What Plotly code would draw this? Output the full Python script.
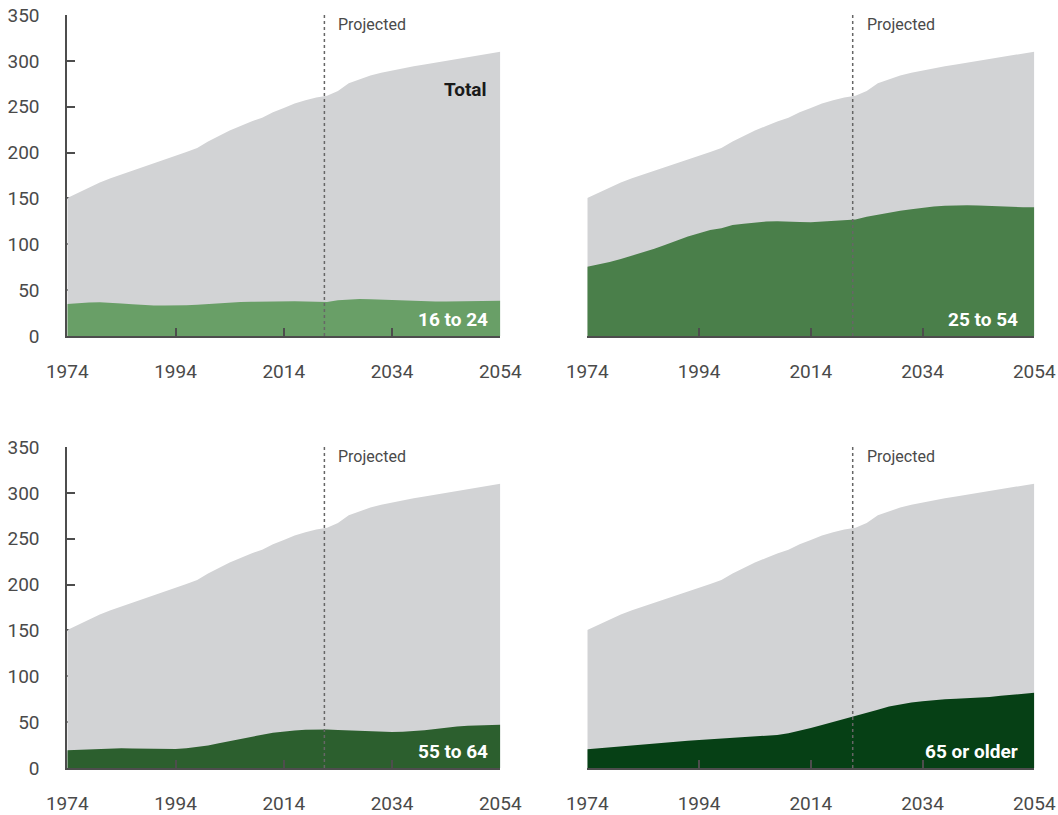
import plotly.graph_objects as go

years = list(range(1974, 2055, 2))

total = [150.5, 156, 161.5, 167.5, 172, 176, 180, 184, 188, 192.5,
         196.5, 200.5, 205, 212, 218, 224, 229, 234, 238, 244,
         248.5, 253.5, 257, 260, 262, 267, 275.5, 280, 284, 287,
         289.5, 292, 294, 296, 298, 300, 302, 304, 306, 308, 310]

age_16_24 = [34.8, 35.8, 36.5, 36.7, 36.3, 35.5, 34.5, 33.5, 33.2, 33.2,
             33.2, 33.5, 34.2, 35, 35.8, 36.5, 37, 37.3, 37.6, 38,
             38.2, 38, 37.5, 37, 37, 39, 40, 40.3, 40, 39.5,
             38.7, 38.2, 37.8, 37.5, 37.5, 37.7, 38, 38.2, 38.4, 38.5, 38.5]

age_25_54 = [75.6, 78, 80.8, 84, 87.5, 91, 95, 99.5, 104, 108.5,
             112, 115.5, 117.5, 121, 122.5, 124, 124.8, 125, 125, 124.3,
             124, 124.6, 125.3, 125.8, 127, 130, 132.3, 134.5, 136.5, 138.3,
             140, 141.3, 142, 142.4, 142.5, 142.3, 141.7, 141, 140.7, 140.5, 140.3]

age_55_64 = [19.3, 19.8, 20.3, 20.8, 21.2, 21.4, 21.3, 21, 20.6, 20.6,
             20.7, 21.5, 23, 24.5, 27, 29.5, 32, 34.2, 36.3, 38.3,
             39.8, 41, 41.8, 42.1, 42, 41.5, 41, 40.2, 39.4, 39.2,
             39.2, 39.5, 40.2, 41.2, 42.5, 44, 45.2, 46, 46.6, 47, 47.2]

age_65_plus = [20.5, 21.6, 22.7, 23.8, 24.9, 26, 27, 28, 29, 29.8,
               30.6, 31.3, 32, 32.6, 33.3, 34, 34.8, 36, 37.8, 40.5,
               43.5, 46.8, 50, 53.3, 56.5, 59.5, 63.5, 67, 69.5, 71.3,
               72.8, 74, 75, 75.5, 76, 76.5, 77.5, 78.7, 80, 81, 82]

groups = ["16 to 24", "25 to 54", "55 to 64", "65 or older"]
group_values = [age_16_24, age_25_54, age_55_64, age_65_plus]
group_colors = ["#699f67", "#4a7f4a", "#2c5f2e", "#064015"]

x_ticks = [1974, 1994, 2014, 2034, 2054]
y_ticks = [0, 50, 100, 150, 200, 250, 300, 350]
projection_start = 2021.5

GRAY = "#d2d3d5"
AXIS = "#4d4d4d"
TEXT = "#4a4a4a"
FONT = "Roboto"

W, H = 1058, 815
x_dom = [(67.3, 500.3), (587.3, 1034.3), (67.3, 500.3), (587.3, 1034.3)]
y_dom = [(15, 336), (15, 336), (447, 768), (447, 768)]

fig = go.Figure()
layout = dict(
    width=W, height=H,
    margin=dict(l=0, r=0, t=0, b=0, autoexpand=False),
    paper_bgcolor="white", plot_bgcolor="white",
    showlegend=False,
    font=dict(family=FONT, size=18, color=TEXT),
    shapes=[], annotations=[],
)

for i in range(4):
    n = "" if i == 0 else str(i + 1)
    xa, ya = "x" + n, "y" + n
    fig.add_trace(go.Scatter(x=years, y=total, xaxis=xa, yaxis=ya, mode="lines",
                             line=dict(width=0, color=GRAY), fill="tozeroy",
                             fillcolor=GRAY, hoverinfo="skip"))
    fig.add_trace(go.Scatter(x=years, y=group_values[i], xaxis=xa, yaxis=ya, mode="lines",
                             line=dict(width=0, color=group_colors[i]), fill="tozeroy",
                             fillcolor=group_colors[i], hoverinfo="skip"))
    x0, x1 = x_dom[i]
    y0, y1 = y_dom[i]
    left = i in (0, 2)
    layout["xaxis" + n] = dict(
        domain=[x0 / W, x1 / W], anchor=ya, range=[1974, 2054], automargin=False,
        tickvals=x_ticks, ticks="inside", ticklen=8, tickwidth=1.5, tickcolor=AXIS,
        showline=True, linecolor=AXIS, linewidth=2, showgrid=False, zeroline=False,
        tickfont=dict(family=FONT, size=19, color=TEXT), ticklabelstandoff=17,
        ticklabeloverflow="allow", layer="above traces",
    )
    layout["yaxis" + n] = dict(
        domain=[1 - y1 / H, 1 - y0 / H], anchor=xa, range=[0, 350], automargin=False,
        tickvals=y_ticks, showticklabels=left, ticks="inside" if left else "",
        ticklen=8, tickwidth=1.5, tickcolor=AXIS,
        showline=left, linecolor=AXIS, linewidth=2, showgrid=False, zeroline=False,
        tickfont=dict(family=FONT, size=19, color=TEXT), ticklabelstandoff=22,
        ticklabeloverflow="allow", layer="below traces",
    )
    layout["shapes"].append(dict(type="line", xref=xa, yref=ya + " domain",
                                 x0=projection_start, x1=projection_start, y0=0, y1=1,
                                 line=dict(color="#666666", width=1.5, dash="dot"),
                                 layer="above"))
    layout["annotations"].append(dict(x=projection_start, y=340, xref=xa, yref=ya,
                                      text="Projected", showarrow=False, xanchor="left",
                                      yanchor="middle", xshift=12,
                                      font=dict(family=FONT, size=16, color=TEXT)))
    layout["annotations"].append(dict(x=2054, y=18, xref=xa, yref=ya,
                                      text="<b>" + groups[i] + "</b>", showarrow=False,
                                      xanchor="right", yanchor="middle",
                                      xshift=-10 if left else -14,
                                      font=dict(family=FONT, size=19, color="white")))

layout["annotations"].append(dict(x=2054, y=269, xref="x", yref="y", text="<b>Total</b>",
                                  showarrow=False, xanchor="right", yanchor="middle",
                                  xshift=-11, font=dict(family=FONT, size=19, color="#1a1a1a")))

fig.update_layout(**layout)
fig.write_html("out.html", config={"displayModeBar": False},
               post_script="document.body.style.margin='0';document.body.style.overflow='hidden';")
